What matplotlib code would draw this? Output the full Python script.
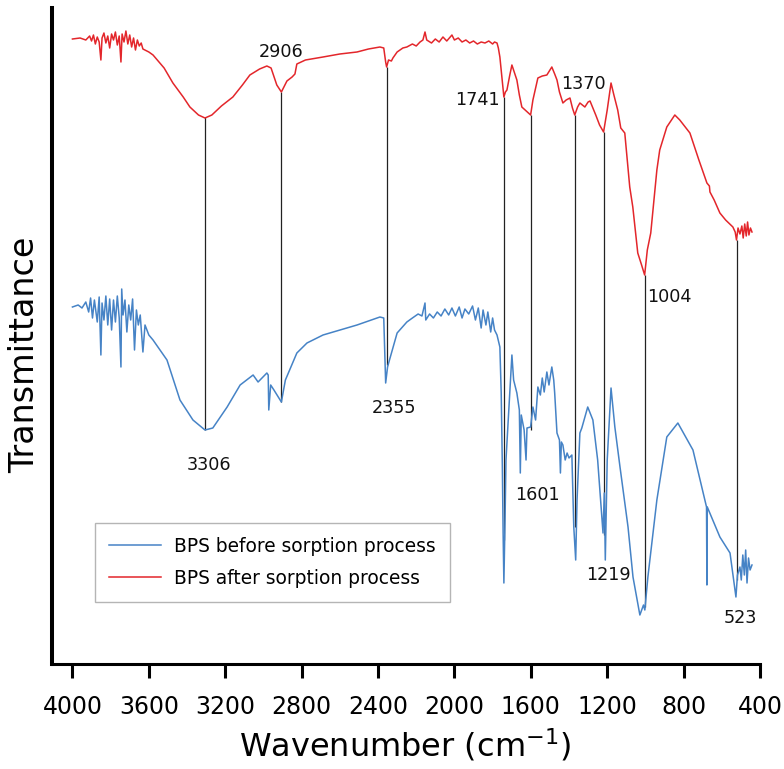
import matplotlib
matplotlib.use('Agg')
import matplotlib.pyplot as plt

# BPS after sorption (red) - wavenumber, transmittance (a.u.)
red_wn = [4000, 3960, 3930, 3910, 3900, 3890, 3880, 3870, 3860, 3851, 3845, 3835, 3825, 3815,
          3805, 3795, 3785, 3775, 3765, 3755, 3746, 3740, 3730, 3720, 3710, 3700, 3690, 3680,
          3670, 3660, 3650, 3640, 3631, 3600, 3578, 3520, 3474, 3420, 3385, 3340, 3306, 3270,
          3220, 3160, 3110, 3071, 3020, 2982, 2960, 2930, 2906, 2890, 2877, 2850, 2835, 2825,
          2780, 2688, 2600, 2510, 2450, 2390, 2370, 2360, 2355, 2345, 2330, 2322, 2300, 2270,
          2249, 2220, 2200, 2180, 2165, 2154, 2145, 2120, 2100, 2080, 2060, 2040, 2013, 2000,
          1980, 1960, 1940, 1920, 1900, 1880, 1860, 1840, 1820, 1800, 1790, 1777, 1770, 1762,
          1750, 1741, 1733, 1725, 1710, 1699, 1685, 1673, 1660, 1647, 1630, 1601, 1589, 1575,
          1563, 1540, 1516, 1500, 1490, 1475, 1463, 1450, 1432, 1415, 1395, 1382, 1370, 1355,
          1343, 1330, 1317, 1300, 1290, 1260, 1240, 1219, 1200, 1180, 1165, 1145, 1129, 1108,
          1082, 1066, 1040, 1020, 1004, 990, 972, 940, 925, 888, 846, 820, 767, 720, 678, 665,
          662, 640, 610, 580, 542, 530, 523, 515, 505, 495, 488, 480, 472, 465, 458, 450, 442]
red_t = [625, 626, 624, 628, 623, 629, 620, 627, 622, 604, 626, 631, 621, 628,
         616, 630, 624, 632, 619, 628, 602, 630, 622, 633, 620, 629, 617, 626,
         614, 624, 618, 621, 615, 612, 609, 596, 581, 567, 557, 549, 546, 549,
         558, 567, 579, 589, 595, 598, 596, 579, 572, 578, 583, 587, 590, 600,
         604, 607, 610, 612, 615, 617, 616, 602, 597, 604, 603, 606, 612, 616,
         617, 620, 618, 622, 624, 632, 624, 621, 625, 622, 627, 623, 629, 624,
         626, 622, 624, 621, 623, 620, 622, 621, 623, 620, 622, 621, 616, 607,
         584, 567, 572, 574, 589, 599, 591, 584, 569, 557, 554, 549, 564, 576,
         586, 588, 589, 594, 597, 590, 584, 572, 561, 564, 566, 556, 549, 557,
         561, 559, 557, 562, 563, 549, 539, 532, 554, 581, 569, 554, 536, 531,
         477, 457, 411, 399, 389, 414, 431, 494, 514, 537, 549, 544, 531, 504, 481, 478,
         472, 464, 451, 444, 437, 432, 424, 436, 430, 438, 426, 440, 428, 442, 429, 436, 432]

# BPS before sorption (blue)
blue_wn = [4000, 3970, 3950, 3930, 3915, 3905, 3895, 3885, 3870, 3860, 3851, 3845, 3835, 3825,
           3815, 3805, 3795, 3785, 3775, 3765, 3755, 3746, 3742, 3735, 3725, 3715, 3705, 3695,
           3685, 3675, 3665, 3655, 3645, 3631, 3620, 3600, 3578, 3505, 3437, 3369, 3306, 3265,
           3190, 3122, 3054, 3028, 2982, 2975, 2972, 2962, 2945, 2906, 2885, 2825, 2772, 2688,
           2510, 2390, 2370, 2360, 2355, 2350, 2340, 2300, 2249, 2220, 2190, 2170, 2154, 2150,
           2130, 2110, 2090, 2070, 2050, 2030, 2013, 1995, 1975, 1960, 1945, 1925, 1905, 1890,
           1875, 1860, 1850, 1835, 1825, 1810, 1800, 1790, 1777, 1762, 1755, 1749, 1745, 1741,
           1735, 1730, 1712, 1699, 1690, 1673, 1660, 1655, 1650, 1635, 1625, 1620, 1601, 1589,
           1575, 1563, 1550, 1540, 1530, 1516, 1505, 1490, 1480, 1475, 1463, 1450, 1445, 1440,
           1432, 1420, 1410, 1400, 1385, 1375, 1365, 1358, 1343, 1333, 1302, 1275, 1250, 1222,
           1215, 1210, 1200, 1180, 1160, 1133, 1091, 1065, 1029, 1010, 1003, 987, 940, 888,
           830, 751, 680, 678, 676, 610, 557, 526, 518, 505, 498, 490, 482, 475, 468, 460, 452, 442]
blue_t = [357, 359, 356, 362, 352, 366, 346, 364, 342, 367, 309, 361, 344, 368,
          339, 365, 334, 364, 342, 368, 346, 297, 375, 349, 364, 332, 359, 344,
          365, 314, 354, 339, 349, 312, 339, 329, 324, 304, 264, 244, 234, 236,
          257, 279, 289, 282, 291, 289, 254, 279, 274, 262, 284, 311, 321, 329,
          339, 347, 346, 281, 289, 297, 304, 331, 342, 346, 350, 348, 361, 344,
          350, 346, 352, 348, 355, 349, 356, 348, 357, 346, 355, 350, 358, 344,
          356, 336, 354, 339, 352, 332, 346, 334, 329, 317, 271, 197, 131, 81,
          144, 204, 264, 309, 284, 271, 254, 191, 249, 234, 204, 236, 237, 257,
          244, 277, 269, 286, 272, 292, 279, 297, 284, 271, 231, 224, 191, 222,
          219, 204, 211, 206, 209, 137, 104, 164, 231, 236, 257, 244, 204, 131,
          171, 104, 204, 276, 237, 197, 137, 87, 49, 59, 54, 87, 164, 227,
          241, 214, 157, 79, 157, 127, 111, 67, 89, 97, 84, 109, 89, 114, 81, 106, 94, 99]

# marked peaks: line from red curve down to blue curve
peak_wn = [3306, 2906, 2355, 1741, 1601, 1370, 1219, 1004, 523]
peak_top = [547, 572, 597, 567, 549, 549, 532, 389, 424]
peak_bottom = [234, 262, 299, 124, 234, 137, 129, 57, 84]

# where each peak label sits (wavenumber, transmittance)
label_wn = [3285, 2908, 2317, 1882, 1563, 1322, 1191, 877, 505]
label_t = [199, 612, 256, 564, 169, 580, 89, 367, 46]

xticks = [4000, 3600, 3200, 2800, 2400, 2000, 1600, 1200, 800, 400]

fig = plt.figure(figsize=(7.84, 7.69), dpi=100)
ax = fig.add_axes([52 / 784, 1 - 664 / 769, 708 / 784, 656 / 769])

ax.vlines(peak_wn, peak_bottom, peak_top, color='#222222', linewidth=0.9, zorder=1)
ax.plot(blue_wn, blue_t, color='#4683c6', linewidth=1.1, label='BPS before sorption process', zorder=2)
ax.plot(red_wn, red_t, color='#e3262b', linewidth=1.1, label='BPS after sorption process', zorder=2)

for wn, x, y in zip(peak_wn, label_wn, label_t):
    ax.text(x, y, str(wn), ha='center', va='center', fontsize=12.7, color='#111111')

ax.set_xlim(4107, 400)
ax.set_ylim(0, 656)
ax.set_xticks(xticks)
ax.set_xticklabels([str(v) for v in xticks])
ax.set_yticks([])
ax.tick_params(axis='x', direction='out', length=10, width=2.2, pad=12, labelsize=17)
ax.spines['top'].set_visible(False)
ax.spines['right'].set_visible(False)
ax.spines['left'].set_linewidth(2.9)
ax.spines['bottom'].set_linewidth(2.2)

leg = ax.legend(loc='upper left', bbox_to_anchor=(0.0607, 0.215), borderaxespad=0,
                fontsize=13.4, handlelength=2.8, handletextpad=0.7, labelspacing=0.7,
                fancybox=False, edgecolor='#b5b5b5', framealpha=1, borderpad=0.75)
leg.get_frame().set_linewidth(1.0)

fig.text(405 / 784, 1 - 745 / 769, 'Wavenumber (cm$^{-1}$)', ha='center', va='center', fontsize=23)
fig.text(25 / 784, 1 - 355 / 769, 'Transmittance', ha='center', va='center', rotation=90, fontsize=24)

fig.savefig('out.png', dpi=100)
